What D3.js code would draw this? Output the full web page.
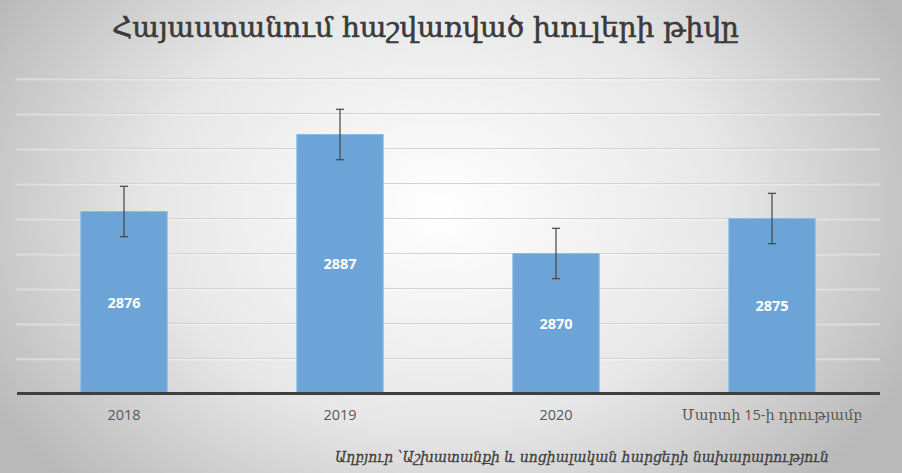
<!DOCTYPE html>
<html><head><meta charset="utf-8">
<script src="https://cdn.jsdelivr.net/npm/d3@7"></script>
<style>html,body{margin:0;padding:0;overflow:hidden;background:#fff}</style>
</head><body>
<script>
const categories = ["2018", "2019", "2020", "Մարտի 15-ի դրությամբ"];
const values = [2876, 2887, 2870, 2875];
const errors = [3.6, 3.6, 3.6, 3.6];
const gridTicks = [2850, 2855, 2860, 2865, 2870, 2875, 2880, 2885, 2890, 2895];
const titleText = "Հայաստանում հաշվառված խուլերի թիվը";
const sourceText = "Աղբյուր ՝Աշխատանքի և սոցիալական հարցերի նախարարություն";

const W = 902, H = 473;
const svg = d3.select("body").append("svg").attr("width", W).attr("height", H);
const defs = svg.append("defs");
const rg = defs.append("radialGradient").attr("id","bg")
  .attr("gradientUnits","userSpaceOnUse").attr("cx",440).attr("cy",210).attr("r",520)
  .attr("gradientTransform","translate(440,210) scale(1,0.75) translate(-440,-210)");
rg.append("stop").attr("offset","0").attr("stop-color","#ffffff");
rg.append("stop").attr("offset","0.55").attr("stop-color","#e7e7e7");
rg.append("stop").attr("offset","1").attr("stop-color","#b9b9b9");
svg.append("rect").attr("width",W).attr("height",H).attr("fill","url(#bg)");

const x = d3.scaleBand().domain(categories).range([16, 880]).paddingInner(0.6).paddingOuter(0.3);
const y = d3.scaleLinear().domain([2850, 2895]).range([393.5, 78.5]);

// gridlines
const g = svg.append("g");
g.selectAll("line.grid").data(gridTicks.slice(1)).join("line")
  .attr("x1",16).attr("x2",880).attr("y1",d=>y(d)).attr("y2",d=>y(d))
  .attr("stroke","#d3d3d3").attr("stroke-width",1.2);
g.selectAll("line.gridh").data(gridTicks.slice(1)).join("line")
  .attr("x1",16).attr("x2",880).attr("y1",d=>y(d)+1.3).attr("y2",d=>y(d)+1.3)
  .attr("stroke","#ffffff").attr("stroke-opacity",0.5).attr("stroke-width",1);

// bars
svg.selectAll("rect.bar").data(values).join("rect")
  .attr("x",(d,i)=>x(categories[i])).attr("width",x.bandwidth())
  .attr("y",d=>y(d)).attr("height",d=>y(2850)-y(d))
  .attr("fill","#6ca4d8").attr("stroke","#8dbbe6").attr("stroke-width",1);

// baseline axis
const axis = d3.axisBottom(x).tickSize(0).tickPadding(16);
const ag = svg.append("g").attr("transform",`translate(0,${y(2850)})`).call(axis);
ag.select(".domain").attr("d","M17,0H880").attr("stroke","#3f3f3f").attr("stroke-width",3);
ag.selectAll("text").attr("fill","#595959").attr("font-size","14.5px")
  .attr("font-family","'Open Sans','DejaVu Serif',sans-serif");

// error bars
const eb = svg.append("g").attr("stroke","#444").attr("stroke-width",1.2);
values.forEach((v,i)=>{
  const cx = x(categories[i]) + x.bandwidth()/2;
  eb.append("line").attr("x1",cx).attr("x2",cx).attr("y1",y(v+errors[i])).attr("y2",y(v-errors[i]));
  eb.append("line").attr("x1",cx-4).attr("x2",cx+4).attr("y1",y(v+errors[i])).attr("y2",y(v+errors[i]));
  eb.append("line").attr("x1",cx-4).attr("x2",cx+4).attr("y1",y(v-errors[i])).attr("y2",y(v-errors[i]));
});

// value labels
svg.selectAll("text.val").data(values).join("text")
  .attr("x",(d,i)=>x(categories[i])+x.bandwidth()/2)
  .attr("y",d=>(y(d)+y(2850))/2).attr("dy","0.35em")
  .attr("text-anchor","middle").attr("fill","#ffffff").attr("font-weight","bold")
  .attr("font-size","14.5px").attr("font-family","'Open Sans',sans-serif")
  .text(d=>d);

// title
svg.append("text").attr("x",112).attr("y",37)
  .attr("textLength",627).attr("lengthAdjust","spacingAndGlyphs")
  .attr("fill","#3a3a3a").attr("stroke","#3a3a3a").attr("stroke-width",0.6)
  .attr("font-size","28px").attr("font-family","'DejaVu Serif',serif")
  .text(titleText);

// source
svg.append("text").attr("x",335).attr("y",462)
  .attr("textLength",494).attr("lengthAdjust","spacingAndGlyphs")
  .attr("fill","#404040").attr("stroke","#404040").attr("stroke-width",0.3)
  .attr("font-size","15px").attr("font-style","italic")
  .attr("font-family","'DejaVu Serif',serif")
  .text(sourceText);
</script>
</body></html>
